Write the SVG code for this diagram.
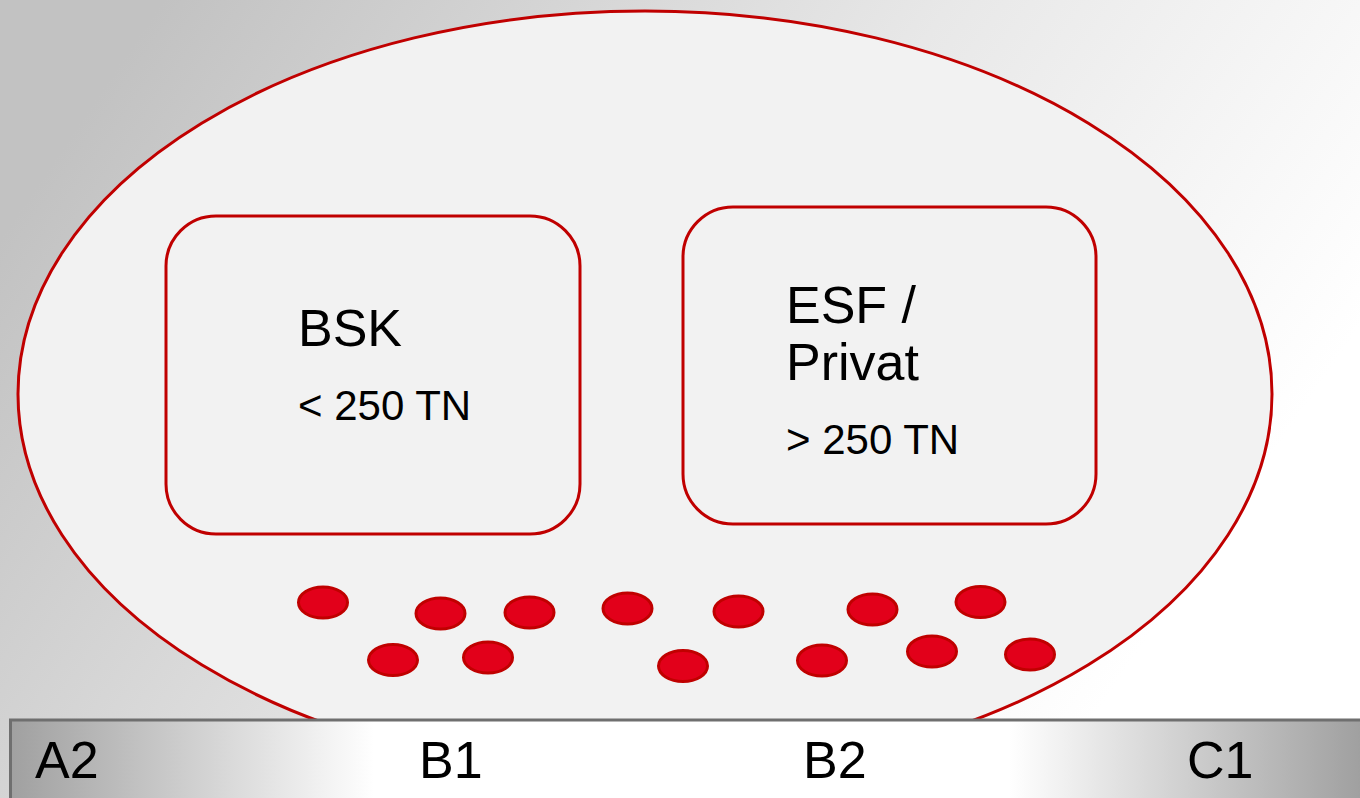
<svg xmlns="http://www.w3.org/2000/svg" width="1360" height="798" viewBox="0 0 1360 798">
<defs>
<linearGradient id="bg" x1="0" y1="0.3" x2="1" y2="0.7">
<stop offset="0" stop-color="#c2c2c2"/>
<stop offset="0.5" stop-color="#e8e8e8"/>
<stop offset="0.9" stop-color="#ffffff"/>
</linearGradient>
<linearGradient id="bar" gradientUnits="userSpaceOnUse" x1="10" y1="0" x2="1360" y2="0">
<stop offset="0" stop-color="#a0a0a0"/>
<stop offset="0.27" stop-color="#ffffff"/>
<stop offset="0.74" stop-color="#ffffff"/>
<stop offset="1" stop-color="#a0a0a0"/>
</linearGradient>
<style>
.box{fill:#f2f2f2;stroke:#c00000;stroke-width:3}
.dot{fill:#e2001a;stroke:#c00000;stroke-width:3}
.t{font-family:"Liberation Sans",Arial,sans-serif;fill:#000}
.big{font-size:52px}
.small{font-size:42px}
.lvl{font-size:52px}
</style>
</defs>
<rect x="0" y="0" width="1360" height="798" fill="url(#bg)"/>
<g id="cloud">
<ellipse cx="645" cy="394" rx="627" ry="383" class="box"/>
</g>
<g id="bsk">
<rect x="166" y="216" width="414" height="318" rx="50" ry="50" class="box"/>
<text class="t big" x="298" y="346">BSK</text>
<text class="t small" x="298" y="420">&lt; 250 TN</text>
</g>
<g id="esf">
<rect x="683" y="207" width="413" height="317" rx="50" ry="50" class="box"/>
<text class="t big" x="786" y="323">ESF /</text>
<text class="t big" x="786" y="380">Privat</text>
<text class="t small" x="786" y="454">&gt; 250 TN</text>
</g>
<g id="dots">
<ellipse class="dot" cx="323" cy="602.5" rx="24.5" ry="15.5"/>
<ellipse class="dot" cx="440.5" cy="613.5" rx="24.5" ry="15.5"/>
<ellipse class="dot" cx="529.5" cy="612.5" rx="24.5" ry="15.5"/>
<ellipse class="dot" cx="627.5" cy="608.5" rx="24.5" ry="15.5"/>
<ellipse class="dot" cx="738.5" cy="611.5" rx="24.5" ry="15.5"/>
<ellipse class="dot" cx="872.5" cy="609.5" rx="24.5" ry="15.5"/>
<ellipse class="dot" cx="980.5" cy="602" rx="24.5" ry="15.5"/>
<ellipse class="dot" cx="393" cy="660" rx="24.5" ry="15.5"/>
<ellipse class="dot" cx="488" cy="657.5" rx="24.5" ry="15.5"/>
<ellipse class="dot" cx="683" cy="666" rx="24.5" ry="15.5"/>
<ellipse class="dot" cx="822" cy="660.5" rx="24.5" ry="15.5"/>
<ellipse class="dot" cx="932" cy="651.5" rx="24.5" ry="15.5"/>
<ellipse class="dot" cx="1030" cy="654.5" rx="24.5" ry="15.5"/>
</g>
<g id="levels">
<rect x="10.5" y="720" width="1360" height="90" fill="url(#bar)" stroke="#6f6f6f" stroke-width="3"/>
<text class="t lvl" x="35" y="778">A2</text>
<text class="t lvl" x="419" y="778">B1</text>
<text class="t lvl" x="803" y="778">B2</text>
<text class="t lvl" x="1187" y="778">C1</text>
</g>
<g id="connectors"/>
</svg>
